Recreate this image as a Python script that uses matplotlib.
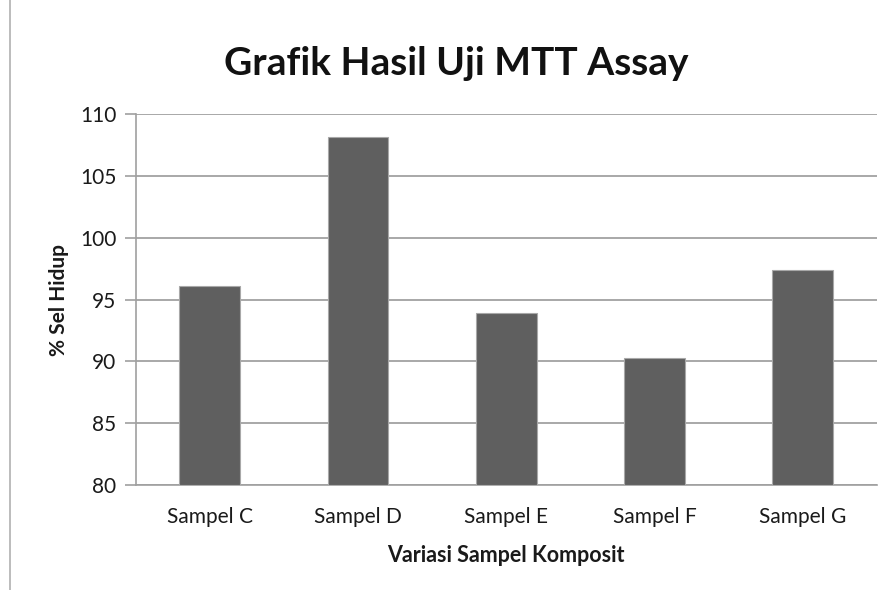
import matplotlib
matplotlib.use("Agg")
import matplotlib.pyplot as plt
from matplotlib.lines import Line2D

categories = ["Sampel C", "Sampel D", "Sampel E", "Sampel F", "Sampel G"]
values = [96.1, 108.2, 93.9, 90.25, 97.4]
yticks = [80, 85, 90, 95, 100, 105, 110]

plt.rcParams['font.family'] = ['Lato', 'DejaVu Sans']

fig = plt.figure(figsize=(8.91, 5.90), dpi=100)
ax = fig.add_axes([0.1523, 0.178, 0.984 - 0.1523, 0.8063 - 0.178])

x = range(len(categories))
ax.bar(x, [v - 80 for v in values], bottom=80, width=0.41, color="#5f5f5f",
       edgecolor="#a8a8a8", linewidth=0.8, zorder=3)

ax.set_xlim(-0.5, len(categories) - 0.5)
ax.set_ylim(80, 110)
ax.set_yticks(yticks)
ax.set_yticklabels([str(t) for t in yticks], fontsize=15, color="#1a1a1a")
ax.set_xticks(list(x))
ax.set_xticklabels(categories, fontsize=15, color="#1a1a1a")
ax.tick_params(axis='y', length=8, width=1.2, color="#a0a0a0", pad=6)
ax.tick_params(axis='x', length=0, pad=16)

ax.yaxis.grid(True, color="#a8a8a8", linewidth=1.4, zorder=0)
ax.set_axisbelow(True)
for s in ["top", "right"]:
    ax.spines[s].set_visible(False)
for s in ["left", "bottom"]:
    ax.spines[s].set_color("#a0a0a0")
    ax.spines[s].set_linewidth(1.2)

ax.set_ylabel("% Sel Hidup", fontsize=15, fontweight="bold", color="#1a1a1a", labelpad=8)
ax.set_xlabel("Variasi Sampel Komposit", fontsize=15.5, fontweight="bold", color="#1a1a1a", labelpad=13)

fig.text(0.512, 0.893, "Grafik Hasil Uji MTT Assay", fontsize=28, fontweight="bold",
         ha="center", va="center", color="#111111")

fig.add_artist(Line2D([9.5 / 891, 9.5 / 891], [0.0, 1.0], transform=fig.transFigure,
                      color="#b0b0b0", linewidth=1.2))

fig.savefig("out.png", dpi=100, facecolor="white")
